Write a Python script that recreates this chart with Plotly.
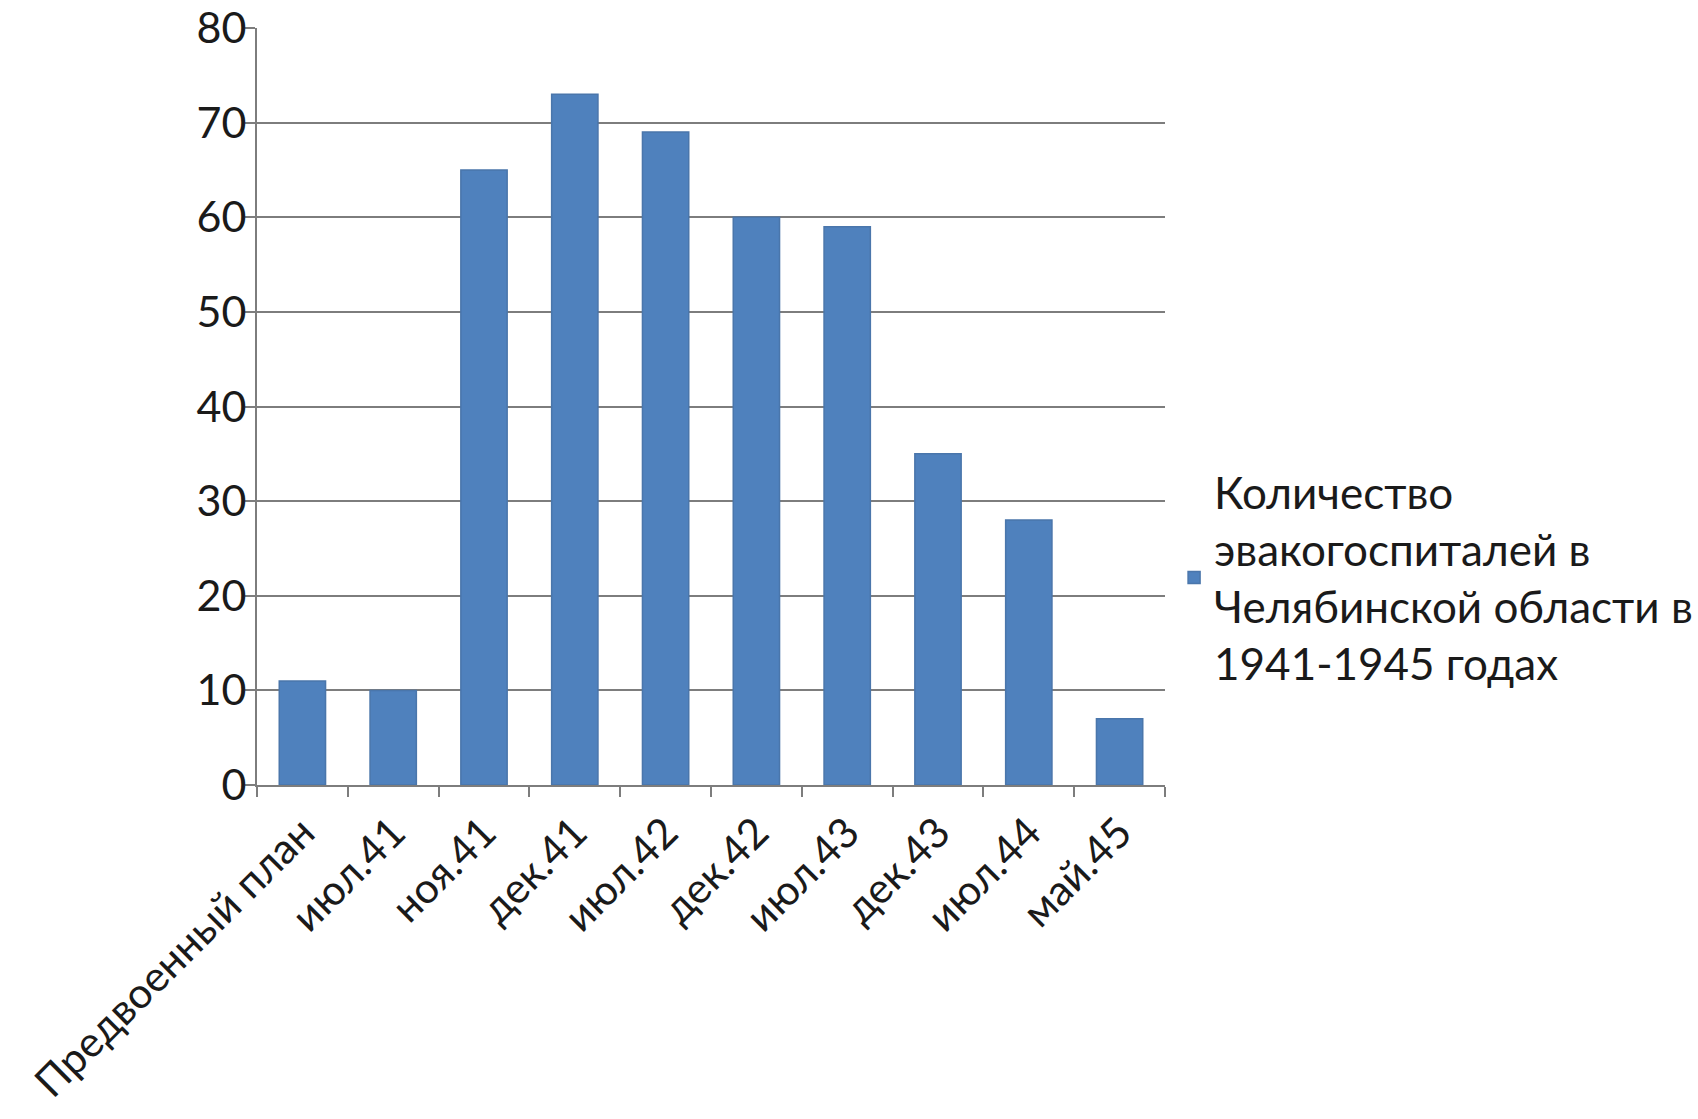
import plotly.graph_objects as go

categories = ["Предвоенный план", "июл.41", "ноя.41", "дек.41", "июл.42",
              "дек.42", "июл.43", "дек.43", "июл.44", "май.45"]
values = [11, 10, 65, 73, 69, 60, 59, 35, 28, 7]
series_name = "Количество<br>эвакогоспиталей в<br>Челябинской области в<br>1941-1945 годах"
y_ticks = [0, 10, 20, 30, 40, 50, 60, 70, 80]

FONT = "Lato"
GRID = "#7d7d7d"
TXT = "#1a1a1a"

fig = go.Figure()
fig.add_trace(go.Bar(
    x=categories, y=values, name=series_name,
    marker=dict(color="#4F81BD", line=dict(color="#4A76AB", width=1.5)),
    showlegend=True,
))

fig.update_layout(
    width=1698, height=1119,
    paper_bgcolor="white", plot_bgcolor="white",
    margin=dict(l=257, r=533, t=28, b=334, autoexpand=False),
    bargap=0.49,
    font=dict(family=FONT, size=43, color=TXT),
    showlegend=True,
    legend=dict(
        x=1.01, y=0.274, xanchor="left", yanchor="middle",
        font=dict(family=FONT, size=44, color=TXT),
        itemwidth=30, valign="middle",
        bgcolor="rgba(0,0,0,0)",
    ),
    xaxis=dict(
        type="category",
        tickangle=-45,
        tickson="boundaries",
        ticks="outside", ticklen=10, tickwidth=2, tickcolor=GRID,
        ticklabelstandoff=4,
        showline=True, linecolor=GRID, linewidth=2,
        showgrid=False, automargin=False,
        tickfont=dict(family=FONT, size=42, color=TXT),
    ),
    yaxis=dict(
        range=[0, 80], tickvals=y_ticks,
        ticks="outside", ticklen=10, tickwidth=2, tickcolor=GRID,
        ticklabelstandoff=-10,
        showline=True, linecolor=GRID, linewidth=2,
        showgrid=True, gridcolor=GRID, gridwidth=2,
        zeroline=False, automargin=False,
        tickfont=dict(family=FONT, size=43, color=TXT),
    ),
)

fig.write_html("out.html", config={"displayModeBar": False},
               post_script="document.body.style.margin='0px';document.body.style.overflow='hidden';")
